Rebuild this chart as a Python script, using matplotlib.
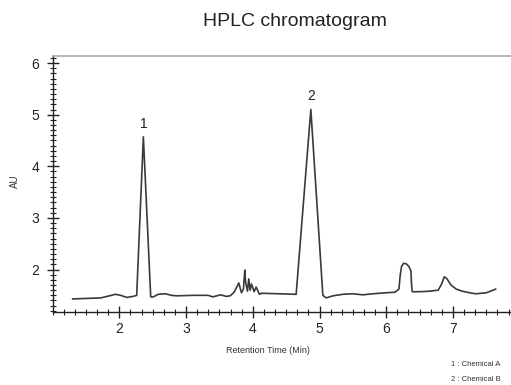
import matplotlib
matplotlib.use("Agg")
import matplotlib.pyplot as plt
from matplotlib.ticker import MultipleLocator

plt.rcParams["font.family"] = ["Liberation Sans", "DejaVu Sans"]

# retention time (min) and absorbance (AU)
time = [1.30, 1.50, 1.72, 1.85, 1.94, 2.02, 2.11, 2.21, 2.26, 2.36, 2.47, 2.51,
        2.58, 2.69, 2.78, 2.86, 3.10, 3.33, 3.40, 3.46, 3.52, 3.60, 3.66, 3.72,
        3.76, 3.79, 3.83, 3.86, 3.88, 3.89, 3.92, 3.94, 3.96, 3.98, 4.02, 4.05,
        4.10, 4.13, 4.40, 4.65, 4.87, 5.05, 5.10, 5.20, 5.35, 5.50, 5.65, 5.80,
        6.00, 6.13, 6.19, 6.21, 6.23, 6.26, 6.30, 6.34, 6.37, 6.38, 6.39, 6.50,
        6.65, 6.78, 6.83, 6.87, 6.91, 6.97, 7.05, 7.14, 7.25, 7.34, 7.50, 7.64]
au = [1.43, 1.44, 1.45, 1.49, 1.52, 1.50, 1.46, 1.48, 1.50, 4.57, 1.47, 1.47,
      1.52, 1.53, 1.50, 1.49, 1.50, 1.50, 1.47, 1.49, 1.51, 1.48, 1.49, 1.56,
      1.66, 1.74, 1.55, 1.62, 1.99, 1.78, 1.58, 1.82, 1.60, 1.72, 1.57, 1.66,
      1.52, 1.54, 1.53, 1.52, 5.10, 1.50, 1.45, 1.49, 1.52, 1.53, 1.51, 1.53,
      1.55, 1.56, 1.62, 1.90, 2.06, 2.12, 2.11, 2.06, 1.97, 1.70, 1.57, 1.57,
      1.58, 1.60, 1.72, 1.86, 1.82, 1.70, 1.62, 1.58, 1.55, 1.53, 1.55, 1.62]

peak_time = [2.36, 4.87]
peak_au = [4.57, 5.10]
peak_labels = ["1", "2"]
compounds = ["1 : Chemical A", "2 : Chemical B"]

fig = plt.figure(figsize=(5.11, 3.85), dpi=100)
ax = fig.add_axes([0.103, 0.19, 0.897, 0.665])

ax.plot(time, au, color="#3a3a3a", lw=1.2)
for t, a, lab in zip(peak_time, peak_au, peak_labels):
    ax.text(t, a + 0.12, lab, ha="center", va="bottom", fontsize=10,
            color="#222222")

ax.set_xlim(1.0, 7.87)
ax.set_ylim(1.18, 6.14)
ax.xaxis.set_minor_locator(MultipleLocator(1 / 6))
ax.yaxis.set_minor_locator(MultipleLocator(0.1))
ax.set_xticks([2, 3, 4, 5, 6, 7])
ax.set_yticks([2, 3, 4, 5, 6])
ax.tick_params(which="major", direction="inout", length=9, width=1.0,
               labelsize=10, color="#222222", labelcolor="#222222", pad=3)
ax.tick_params(axis="y", which="major", pad=5)
ax.tick_params(which="minor", direction="inout", length=5, width=0.8,
               color="#222222")

ax.spines["right"].set_visible(False)
ax.spines["top"].set_color("#aaaaaa")
ax.spines["top"].set_linewidth(1.2)
for s in ("left", "bottom"):
    ax.spines[s].set_color("#222222")
    ax.spines[s].set_linewidth(1.0)

fig.text(0.577, 0.945, "HPLC chromatogram", ha="center", va="center",
         fontsize=14, color="#222222")
fig.text(0.525, 0.09, "Retention Time (Min)", ha="center", va="center",
         fontsize=6.5, color="#333333")
fig.text(0.03, 0.53, "AU", ha="center", va="center", rotation=90,
         fontsize=7, color="#333333")
for i, c in enumerate(compounds):
    fig.text(0.98, 0.052 - i * 0.038, c, ha="right", va="center",
             fontsize=5.5, color="#333333")

fig.savefig("out.png", dpi=100)
